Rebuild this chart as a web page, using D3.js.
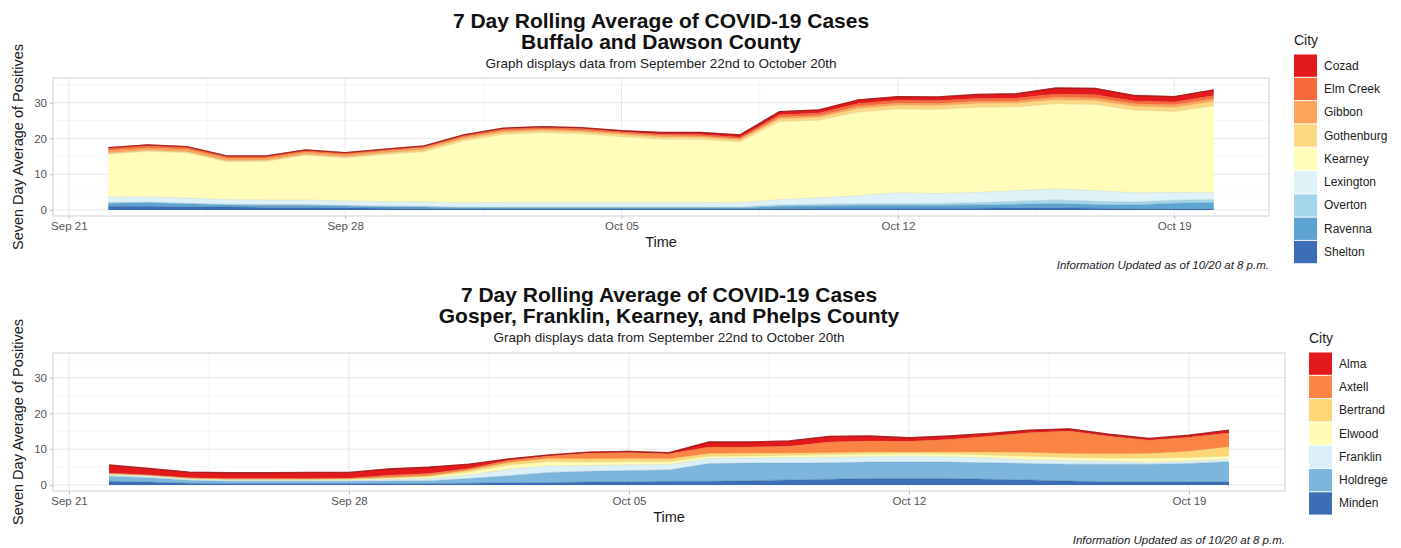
<!DOCTYPE html>
<html><head><meta charset="utf-8">
<script src="https://cdn.jsdelivr.net/npm/d3@7"></script>
<style>
body{margin:0;background:#fff;}
svg{display:block;font-family:"Liberation Sans",Arial,sans-serif;}
</style></head><body>
<svg id="chart" width="1401" height="548"></svg>
<script>
// ---------- DATA ----------
const dates = ["2020-09-22","2020-09-23","2020-09-24","2020-09-25","2020-09-26","2020-09-27","2020-09-28","2020-09-29","2020-09-30","2020-10-01","2020-10-02","2020-10-03","2020-10-04","2020-10-05","2020-10-06","2020-10-07","2020-10-08","2020-10-09","2020-10-10","2020-10-11","2020-10-12","2020-10-13","2020-10-14","2020-10-15","2020-10-16","2020-10-17","2020-10-18","2020-10-19","2020-10-20"];
const xTickDates = ["2020-09-21","2020-09-28","2020-10-05","2020-10-12","2020-10-19"];
const yTicks = [0,10,20,30];
const yMinorTicks = [5,15,25,35];
const yLimits = [-1.7, 36.9];

// Buffalo and Dawson County (legend order, top of stack first)
const citiesA = ["Cozad","Elm Creek","Gibbon","Gothenburg","Kearney","Lexington","Overton","Ravenna","Shelton"];
const colorsA = ["#e3191c","#f96a3a","#fda45a","#fdd883","#fffdb9","#dff2f8","#a3d6e9","#5ea4d2","#3b6eb5"];
const cozad      = [0,0,0,0,0,0,0,0,0,0.1,0.2,0.2,0.2,0.3,0.5,0.6,0.7,0.9,0.9,1.0,1.0,1.0,1.1,1.2,1.7,1.8,1.5,1.5,1.6];
const elmCreek   = [0.8,0.8,0.7,0.6,0.6,0.6,0.5,0.5,0.5,0.5,0.5,0.5,0.5,0.4,0.4,0.4,0.4,0.6,0.7,0.8,0.8,0.8,0.8,0.8,0.9,0.9,0.8,0.8,0.8];
const gibbon     = [0.7,0.7,0.7,0.7,0.6,0.6,0.6,0.6,0.6,0.5,0.5,0.4,0.4,0.4,0.4,0.4,0.3,0.5,0.5,0.6,0.6,0.6,0.6,0.6,0.7,0.7,0.7,0.7,0.8];
const gothenburg = [0.3,0.3,0.3,0.3,0.3,0.3,0.4,0.4,0.5,0.6,0.6,0.6,0.6,0.6,0.6,0.6,0.6,0.8,0.8,1.0,1.1,1.1,1.1,1.1,1.1,1.1,1.1,1.2,1.3];
const kearney    = [12.0,12.7,12.7,10.6,10.8,12.5,12.0,13.2,14.1,17.3,19.0,19.5,19.2,18.4,17.7,17.6,17.0,21.8,21.7,23.4,23.4,23.5,23.8,23.4,23.8,24.1,23.1,22.6,24.3];
const lexington  = [1.5,1.5,1.4,1.3,1.3,1.3,1.2,1.2,1.2,1.2,1.3,1.3,1.3,1.3,1.3,1.3,1.2,1.5,1.8,2.3,3.1,2.8,2.9,3.0,3.1,3.0,2.6,2.2,1.9];
const overton    = [0.2,0.2,0.2,0.2,0.2,0.2,0.2,0.2,0.2,0.2,0.2,0.2,0.2,0.2,0.2,0.2,0.2,0.4,0.4,0.4,0.4,0.5,0.6,0.8,1.0,0.9,0.8,0.8,0.8];
const ravenna    = [0.9,1.0,0.8,0.6,0.6,0.6,0.5,0.4,0.4,0.3,0.3,0.3,0.3,0.3,0.3,0.3,0.3,0.6,0.7,0.8,0.8,0.8,0.9,1.0,1.2,1.0,1.0,1.6,1.8];
const shelton    = [1.0,1.0,0.9,0.8,0.7,0.7,0.6,0.5,0.4,0.3,0.3,0.3,0.3,0.3,0.3,0.3,0.3,0.4,0.5,0.5,0.5,0.5,0.5,0.6,0.6,0.5,0.4,0.3,0.3];

// Gosper, Franklin, Kearney, and Phelps County
const citiesB = ["Alma","Axtell","Bertrand","Elwood","Franklin","Holdrege","Minden"];
const colorsB = ["#e3191c","#fa8444","#fdd775","#fffcb5","#dcf0f7","#7cb6dd","#3b6eb5"];
const alma     = [2.3,1.8,1.6,1.6,1.6,1.7,1.6,1.8,1.8,1.2,0.4,0.3,0.3,0.3,0.3,1.4,1.4,1.5,1.6,1.4,1.0,1.0,0.8,0.7,0.6,0.6,0.5,0.6,0.8];
const axtell   = [0.2,0.1,0.1,0.2,0.2,0.2,0.2,0.6,0.6,0.5,0.6,0.7,1.6,1.7,1.4,1.8,1.7,1.9,3.0,3.1,3.0,3.5,4.4,5.5,6.3,4.9,3.7,3.9,3.8];
const bertrand = [0.1,0.1,0.1,0.1,0.1,0.1,0.1,0.2,0.3,0.5,0.7,0.9,0.9,0.9,0.8,0.8,0.8,0.6,0.5,0.5,0.4,0.5,0.8,1.1,1.1,1.2,1.3,1.7,2.6];
const elwood   = [0.2,0.2,0.2,0.2,0.2,0.2,0.3,0.4,0.5,0.8,1.2,1.2,1.0,0.9,0.8,0.6,0.6,0.7,0.8,0.8,0.8,0.8,0.9,1.0,0.9,0.9,1.2,1.0,0.9];
const franklin = [0.4,0.4,0.3,0.3,0.3,0.3,0.3,0.4,0.6,1.0,1.8,1.8,1.6,1.6,1.5,1.4,1.4,1.5,1.5,1.5,1.6,1.5,1.3,1.0,1.0,0.8,0.5,0.7,0.7];
const holdrege = [1.4,1.2,0.8,0.6,0.6,0.6,0.6,0.7,0.8,1.3,2.0,2.8,3.0,3.1,3.2,5.0,4.9,4.7,4.6,4.6,4.6,4.6,4.6,4.6,4.7,4.9,4.9,5.2,5.7];
const minden   = [1.0,0.8,0.5,0.4,0.4,0.4,0.4,0.4,0.4,0.5,0.6,0.7,0.8,0.9,1.0,1.0,1.2,1.4,1.6,1.8,1.8,1.8,1.6,1.4,1.1,0.9,0.9,0.8,0.8];

const titleLine1 = "7 Day Rolling Average of COVID-19 Cases";
const titleA = "Buffalo and Dawson County";
const titleB = "Gosper, Franklin, Kearney, and Phelps County";
const subtitle = "Graph displays data from September 22nd to October 20th";
const caption = "Information Updated as of 10/20 at 8 p.m.";
const xTitle = "Time";
const yTitle = "Seven Day Average of Positives";
const legendTitle = "City";

// ---------- DRAW ----------
const parse = d3.timeParse("%Y-%m-%d");
const fmt = d3.timeFormat("%b %d");
const svg = d3.select("#chart");

function drawChart(cfg) {
  const {cities, colors, series, panel, title2, tBase, legend} = cfg;
  const dts = dates.map(parse);
  const rows = dts.map((d, i) => {
    const r = {date: d};
    cities.forEach((c, k) => r[c] = series[k][i]);
    return r;
  });
  const stackKeys = cities.slice().reverse(); // bottom of stack first
  const color = d3.scaleOrdinal().domain(cities).range(colors);
  const stacked = d3.stack().keys(stackKeys)(rows);

  const ext = d3.extent(dts);
  const span = ext[1] - ext[0];
  const x = d3.scaleTime()
    .domain([new Date(+ext[0] - span * 0.05), new Date(+ext[1] + span * 0.05)])
    .range([panel.left, panel.right]);
  const y = d3.scaleLinear().domain(yLimits).range([panel.bottom, panel.top]);

  const g = svg.append("g");

  // grid
  const xMajor = xTickDates.map(parse);
  const xMinor = d3.pairs(xMajor).map(([a, b]) => new Date((+a + +b) / 2));
  g.selectAll(".ymin").data(yMinorTicks).join("line")
    .attr("x1", panel.left).attr("x2", panel.right)
    .attr("y1", d => y(d)).attr("y2", d => y(d))
    .attr("stroke", "#f0f0f0").attr("stroke-width", 0.6);
  g.selectAll(".xmin").data(xMinor).join("line")
    .attr("y1", panel.top).attr("y2", panel.bottom)
    .attr("x1", d => x(d)).attr("x2", d => x(d))
    .attr("stroke", "#f0f0f0").attr("stroke-width", 0.6);
  g.selectAll(".ymaj").data(yTicks).join("line")
    .attr("x1", panel.left).attr("x2", panel.right)
    .attr("y1", d => y(d)).attr("y2", d => y(d))
    .attr("stroke", "#e4e4e4").attr("stroke-width", 0.9);
  g.selectAll(".xmaj").data(xMajor).join("line")
    .attr("y1", panel.top).attr("y2", panel.bottom)
    .attr("x1", d => x(d)).attr("x2", d => x(d))
    .attr("stroke", "#e4e4e4").attr("stroke-width", 0.9);

  // areas
  const area = d3.area().x(d => x(d.data.date)).y0(d => y(d[0])).y1(d => y(d[1]));
  const topLine = d3.line().x(d => x(d.data.date)).y(d => y(d[1]));
  g.selectAll(".layer").data(stacked).join("path")
    .attr("d", area).attr("fill", d => color(d.key));
  g.selectAll(".edge").data(stacked).join("path")
    .attr("d", topLine).attr("fill", "none")
    .attr("stroke", d => d3.color(color(d.key)).darker(0.6))
    .attr("stroke-width", 0.7).attr("stroke-opacity", 0.45);
  g.append("path").datum(stacked[stacked.length - 1])
    .attr("d", topLine).attr("fill", "none")
    .attr("stroke", "#9e1a1a").attr("stroke-width", 1.3).attr("stroke-opacity", 0.85);

  // border
  g.append("rect").attr("x", panel.left).attr("y", panel.top)
    .attr("width", panel.right - panel.left).attr("height", panel.bottom - panel.top)
    .attr("fill", "none").attr("stroke", "#cfcfcf").attr("stroke-width", 1);

  // axes
  const xAxis = g.append("g").attr("transform", `translate(0,${panel.bottom})`)
    .call(d3.axisBottom(x).tickValues(xMajor).tickFormat(fmt).tickSize(3).tickPadding(3));
  const yAxis = g.append("g").attr("transform", `translate(${panel.left},0)`)
    .call(d3.axisLeft(y).tickValues(yTicks).tickSize(3).tickPadding(3));
  [xAxis, yAxis].forEach(a => {
    a.select(".domain").remove();
    a.selectAll("line").attr("stroke", "#bdbdbd");
    a.selectAll("text").attr("fill", "#555").style("font-size", "11.5px")
      .style("font-family", '"Liberation Sans",Arial,sans-serif');
  });

  const cx = (panel.left + panel.right) / 2;
  const cy = (panel.top + panel.bottom) / 2;
  g.append("text").attr("x", cx).attr("y", panel.bottom + 31)
    .attr("text-anchor", "middle").style("font-size", "14.5px").attr("fill", "#1a1a1a").text(xTitle);
  g.append("text").attr("transform", `translate(${23},${cy}) rotate(-90)`)
    .attr("text-anchor", "middle").style("font-size", "14.5px").attr("fill", "#1a1a1a").text(yTitle);

  // titles
  g.append("text").attr("x", cx).attr("y", tBase).attr("text-anchor", "middle")
    .style("font-size", "21px").style("font-weight", "bold").attr("fill", "#111").text(titleLine1);
  g.append("text").attr("x", cx).attr("y", tBase + 21).attr("text-anchor", "middle")
    .style("font-size", "21px").style("font-weight", "bold").attr("fill", "#111").text(title2);
  g.append("text").attr("x", cx).attr("y", tBase + 40).attr("text-anchor", "middle")
    .style("font-size", "13.5px").attr("fill", "#222").text(subtitle);

  // caption
  g.append("text").attr("x", panel.right).attr("y", panel.bottom + 53).attr("text-anchor", "end")
    .style("font-size", "11.5px").style("font-style", "italic").attr("fill", "#222").text(caption);

  // legend
  const lg = g.append("g").attr("transform", `translate(${legend.x},${legend.y})`);
  lg.append("text").attr("x", 0).attr("y", -9).style("font-size", "14px").attr("fill", "#1a1a1a").text(legendTitle);
  const step = 23.3;
  const items = lg.selectAll(".item").data(cities).join("g")
    .attr("transform", (d, i) => `translate(0,${i * step})`);
  items.append("rect").attr("x", 0).attr("y", 0.5).attr("width", 23).attr("height", step - 1)
    .attr("fill", d => color(d));
  items.append("text").attr("x", 30).attr("y", step / 2 + 4)
    .style("font-size", "12px").attr("fill", "#222").text(d => d);
}

drawChart({
  cities: citiesA, colors: colorsA,
  series: [cozad, elmCreek, gibbon, gothenburg, kearney, lexington, overton, ravenna, shelton],
  panel: {left: 53, right: 1269, top: 78, bottom: 216},
  title2: titleA, tBase: 28,
  legend: {x: 1294, y: 54}
});
drawChart({
  cities: citiesB, colors: colorsB,
  series: [alma, axtell, bertrand, elwood, franklin, holdrege, minden],
  panel: {left: 53, right: 1285, top: 353, bottom: 491},
  title2: titleB, tBase: 302,
  legend: {x: 1309, y: 352}
});
</script>
</body></html>
